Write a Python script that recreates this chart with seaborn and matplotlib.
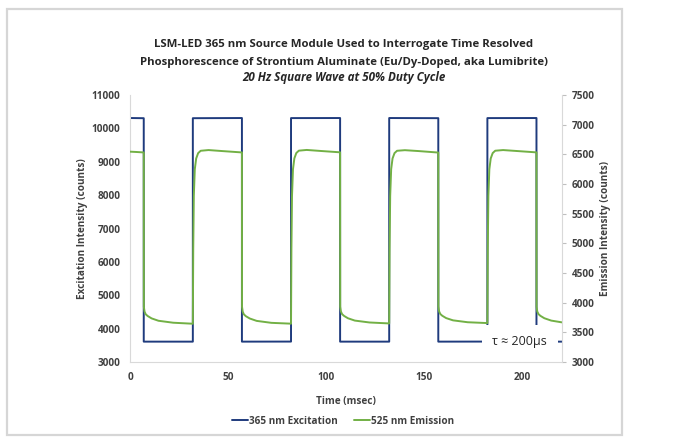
import matplotlib
matplotlib.use("Agg")
import matplotlib.pyplot as plt
import numpy as np
import pandas as pd
import seaborn as sns
from matplotlib.patches import Rectangle

# 365 nm excitation, left axis (counts)
exc_time = [0, 7, 7, 32, 32, 57, 57, 82, 82, 107, 107, 132, 132, 157, 157, 182, 182, 207, 207, 220]
exc_counts = [10310, 10305, 3610, 3610, 10305, 10310, 3610, 3612, 10308, 10310, 3610, 3610,
              10310, 10306, 3610, 3612, 10308, 10310, 3610, 3610]

# 525 nm emission, right axis (counts)
emi_time = [
    0, 3, 7,
    7.05, 7.4, 8, 9, 11, 14.5, 22, 32,
    32.2, 32.5, 33, 33.7, 34.7, 36, 40, 47, 57,
    57.05, 57.4, 58, 59, 61, 64.5, 72, 82,
    82.2, 82.5, 83, 83.7, 84.7, 86, 90, 97, 107,
    107.05, 107.4, 108, 109, 111, 114.5, 122, 132,
    132.2, 132.5, 133, 133.7, 134.7, 136, 140, 147, 157,
    157.05, 157.4, 158, 159, 161, 164.5, 172, 182,
    182.2, 182.5, 183, 183.7, 184.7, 186, 190, 197, 207,
    207.05, 207.4, 208, 209, 211, 214.5, 220,
]
emi_counts = [
    6545, 6540, 6532,
    3930, 3850, 3805, 3775, 3735, 3695, 3662, 3645,
    4900, 5800, 6250, 6430, 6520, 6560, 6572, 6555, 6532,
    3928, 3848, 3803, 3772, 3733, 3693, 3660, 3646,
    4900, 5800, 6250, 6432, 6522, 6562, 6574, 6557, 6534,
    3932, 3852, 3807, 3777, 3737, 3698, 3666, 3650,
    4900, 5800, 6250, 6430, 6520, 6560, 6570, 6555, 6530,
    3935, 3855, 3810, 3780, 3740, 3702, 3670, 3656,
    4900, 5800, 6250, 6430, 6521, 6561, 6572, 6556, 6533,
    3932, 3852, 3808, 3778, 3738, 3698, 3668,
]

x_ticks = [0, 50, 100, 150, 200]
left_ticks = [3000, 4000, 5000, 6000, 7000, 8000, 9000, 10000, 11000]
right_ticks = [3000, 3500, 4000, 4500, 5000, 5500, 6000, 6500, 7000, 7500]

exc_df = pd.DataFrame({"time": exc_time, "counts": exc_counts})
emi_df = pd.DataFrame({"time": emi_time, "counts": emi_counts})

sns.set_theme(style="white")
plt.rcParams["font.family"] = ["Open Sans", "DejaVu Sans"]
plt.rcParams["font.weight"] = "bold"

BLUE = "#1f3b7d"
GREEN = "#72b045"
TXT = "#404040"
FS = 7.2

fig = plt.figure(figsize=(6.96, 4.48), dpi=100)
ax = fig.add_axes([130 / 696, 1 - 362 / 448, 432 / 696, 267 / 448])
ax2 = ax.twinx()

sns.lineplot(data=exc_df, x="time", y="counts", ax=ax, color=BLUE, lw=1.4,
             estimator=None, sort=False, label="365 nm Excitation", legend=False)
sns.lineplot(data=emi_df, x="time", y="counts", ax=ax2, color=GREEN, lw=1.4,
             estimator=None, sort=False, label="525 nm Emission", legend=False)

ax.set_xlim(0, 220)
ax.set_ylim(3000, 11000)
ax2.set_ylim(3000, 7500)
ax.set_xticks(x_ticks)
ax.set_yticks(left_ticks)
ax2.set_yticks(right_ticks)

for a in (ax, ax2):
    for s in a.spines.values():
        s.set_visible(False)
ax.spines["left"].set_visible(True)
ax.spines["bottom"].set_visible(True)
ax2.spines["right"].set_visible(True)
for s in (ax.spines["left"], ax.spines["bottom"], ax2.spines["right"]):
    s.set_color("#d9d9d9")
    s.set_linewidth(0.8)

ax.tick_params(axis="both", length=0, labelsize=FS, labelcolor=TXT, pad=7)
ax2.tick_params(axis="y", length=3, color="#bfbfbf", width=0.8, labelsize=FS, labelcolor=TXT, pad=4)
for lab in ax.get_xticklabels() + ax.get_yticklabels() + ax2.get_yticklabels():
    lab.set_fontweight("bold")

ax.set_xlabel("Time (msec)", fontsize=FS, fontweight="bold", color=TXT)
ax.set_ylabel("Excitation Intensity (counts)", fontsize=FS, fontweight="bold", color=TXT)
ax2.set_ylabel("Emission Intensity (counts)", fontsize=FS, fontweight="bold", color=TXT)
ax.xaxis.set_label_coords(0.5, -0.127)
ax.yaxis.set_label_coords(-0.097, 0.5)
ax2.yaxis.set_label_coords(1.088, 0.5)

ax.text(198.5, 3610, "\u03c4 \u2248 200\u03bcs", ha="center", va="center", fontsize=9,
        fontweight="normal", color="#262626", zorder=5,
        bbox=dict(facecolor="white", edgecolor="none", pad=7.5))

cx = 344 / 696
fig.text(cx, 1 - 45 / 448, "LSM-LED 365 nm Source Module Used to Interrogate Time Resolved",
         ha="center", va="center", fontsize=8.2, fontweight="bold", color="#262626")
fig.text(cx, 1 - 62 / 448, "Phosphorescence of Strontium Aluminate (Eu/Dy-Doped, aka Lumibrite)",
         ha="center", va="center", fontsize=8.2, fontweight="bold", color="#262626")
fig.text(cx, 1 - 78 / 448, "20 Hz Square Wave at 50% Duty Cycle",
         ha="center", va="center", fontsize=8.4, fontweight="bold", style="italic", color="#262626")

h1, l1 = ax.get_legend_handles_labels()
h2, l2 = ax2.get_legend_handles_labels()
fig.legend(h1 + h2, l1 + l2, loc="center", bbox_to_anchor=(343 / 696, 1 - 421 / 448), ncol=2,
           frameon=False, handlelength=1.6, handletextpad=0.1, columnspacing=1.6,
           prop={"size": FS, "weight": "bold"}, labelcolor=TXT)

fig.patches.append(Rectangle((7 / 696, 1 - 435 / 448), 615 / 696, 426 / 448, transform=fig.transFigure,
                             fill=False, edgecolor="#d6d6d6", lw=1.6))

fig.savefig("out.png", dpi=100)
